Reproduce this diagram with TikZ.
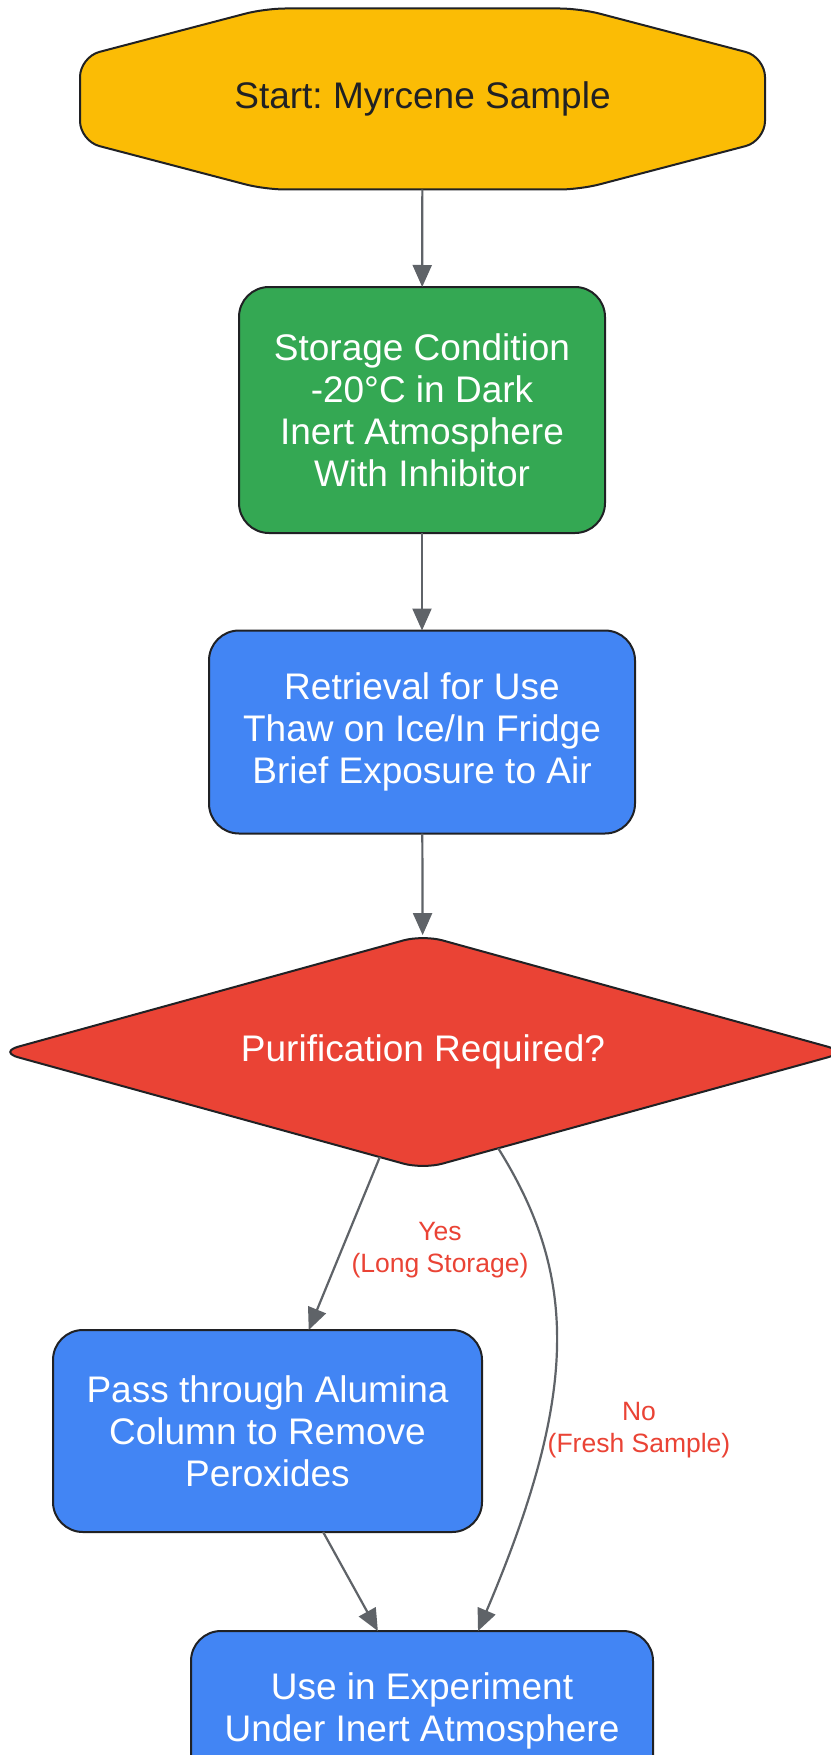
\documentclass[tikz,border=0pt]{standalone}
\usepackage{fontspec}
\setmainfont{Liberation Sans}
\usetikzlibrary{arrows.meta,shapes.geometric,backgrounds}

\definecolor{StartYellow}{HTML}{FBBC05}
\definecolor{StoreGreen}{HTML}{34A853}
\definecolor{StepBlue}{HTML}{4285F4}
\definecolor{CheckRed}{HTML}{EA4335}
\definecolor{EdgeGray}{HTML}{5F6368}
\definecolor{BorderDark}{HTML}{202124}

\frenchspacing

\begin{document}
\begin{tikzpicture}[
    x=1pt, y=-1pt,
    % Environment Config
    font=\fontsize{37}{42}\selectfont,
    StepBox/.style={% Style for the process boxes
      draw=BorderDark,
      line width=2pt,
      rounded corners=30pt,
      text=white,
      align=center,
      inner sep=0pt,
      outer sep=0pt
    },
    StartShape/.style={% Style for the start outline
      draw=BorderDark,
      fill=StartYellow,
      line width=2pt,
      rounded corners=20pt
    },
    CheckBox/.style={% Style for the decision
      diamond,
      aspect=3.63,
      draw=BorderDark,
      fill=CheckRed,
      line width=2pt,
      rounded corners=20pt,
      text=white,
      inner sep=0pt,
      outer sep=0pt,
      minimum width=848pt,
      minimum height=234pt
    },
    FlowArrow/.style={% Style for the connectors
      -{Triangle[length=22pt,width=19pt]},
      EdgeGray,
      line width=2.2pt
    },
    EdgeLabel/.style={% Style for the edge texts
      text=CheckRed,
      align=center,
      font=\fontsize{26.5}{32}\selectfont
    }
  ]

  % Page size
  \useasboundingbox (0,0) rectangle (830,1755);

  % Put the nodes in position
  \node[text=BorderDark, minimum width=685pt, minimum height=181pt,
        inner sep=0pt, outer sep=0pt] (start) at (422.5,99) {Start: Myrcene Sample};
  \node[StepBox, fill=StoreGreen, minimum width=366pt, minimum height=246pt]
    (storage) at (422,410) {Storage Condition\\-20°C in Dark\\Inert Atmosphere\\With Inhibitor};
  \node[StepBox, fill=StepBlue, minimum width=426pt, minimum height=203pt]
    (retrieval) at (422,732) {Retrieval for Use\\Thaw on Ice/In Fridge\\Brief Exposure to Air};
  \node[CheckBox] (check) at (423,1052) {Purification Required?};
  \node[StepBox, fill=StepBlue, minimum width=429pt, minimum height=202pt]
    (alumina) at (267.5,1431) {Pass through Alumina\\Column to Remove\\Peroxides};
  \node[StepBox, fill=StepBlue, minimum width=462pt, minimum height=160pt]
    (use) at (422,1711) {Use in Experiment\\Under Inert Atmosphere};

  % White page and outline of the start node
  \begin{scope}[on background layer]
    \fill[white] (0,0) rectangle (830,1755);
    \draw[StartShape]
      ([xshift=185pt]start.north west)
        -- ([xshift=-185pt]start.north east)
        -- ([yshift=42pt]start.east)
        -- ([yshift=-42pt]start.east)
        -- ([xshift=-185pt]start.south east)
        -- ([xshift=185pt]start.south west)
        -- ([yshift=-42pt]start.west)
        -- ([yshift=42pt]start.west)
        -- cycle;
  \end{scope}

  % Draw the connectors
  \draw[FlowArrow] (start) -- (storage);
  \draw[FlowArrow] (storage) -- (retrieval);
  \draw[FlowArrow] (retrieval) -- (check);
  \draw[FlowArrow] (check) -- (alumina);
  \draw[FlowArrow] (alumina) -- (use);
  \draw[FlowArrow] (check.-52)
    .. controls +(-58:150pt) and +(67:260pt) .. (use.55);

  % Edge labels
  \node[EdgeLabel] (yeslabel) at (440,1250) {Yes\\(Long Storage)};
  \node[EdgeLabel] (nolabel) at (639,1430) {No\\(Fresh Sample)};

\end{tikzpicture}
\end{document}
